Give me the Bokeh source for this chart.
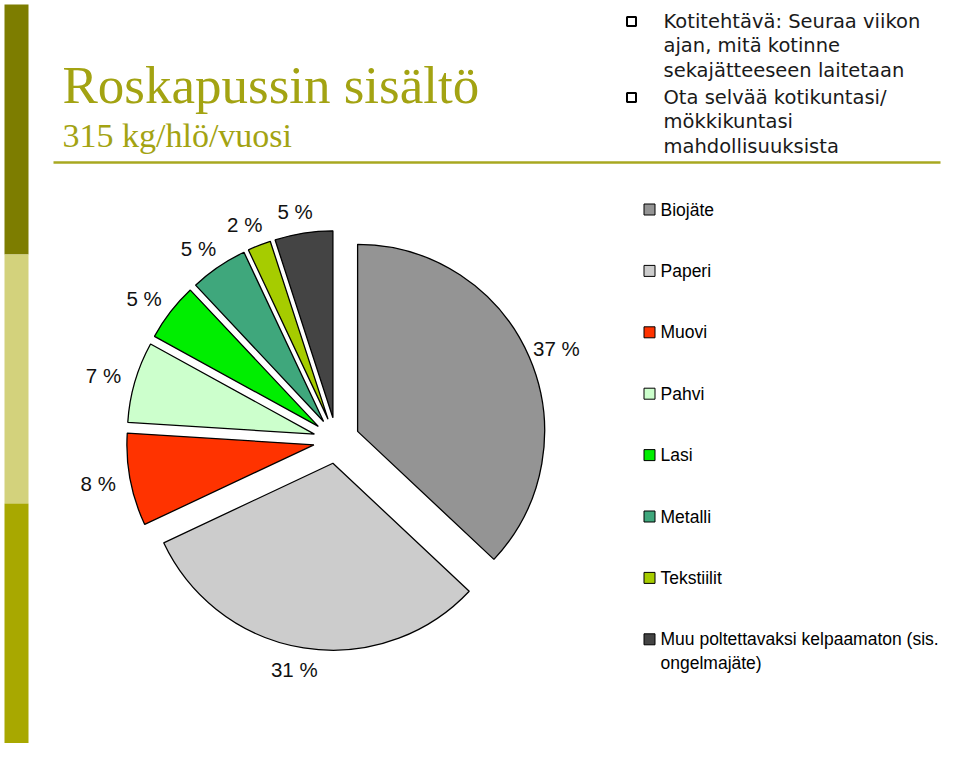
import math
from bokeh.plotting import figure
from bokeh.models import Range1d, ColumnDataSource
from bokeh.core.properties import value
from bokeh.embed import file_html
from bokeh.resources import INLINE

# ---- data ----
categories = ["Biojäte", "Paperi", "Muovi", "Pahvi", "Lasi", "Metalli", "Tekstiilit",
              "Muu poltettavaksi kelpaamaton (sis.\nongelmajäte)"]
shares = [37, 31, 8, 7, 5, 5, 2, 5]
colors = ["#949494", "#cccccc", "#ff3300", "#ccffcc", "#00ee00", "#3fa77c", "#a6cc00", "#444444"]

title_text = "Roskapussin sisältö"
subtitle_text = "315 kg/hlö/vuosi"
bullet_lines = ["Kotitehtävä: Seuraa viikon", "ajan, mitä kotinne", "sekajätteeseen laitetaan",
                "Ota selvää kotikuntasi/", "mökkikuntasi", "mahdollisuuksista"]
bullet_starts = [0, 3]

# ---- layout (pixel coordinates, y measured from top of picture) ----
W, H = 944, 743
def Y(s):
    return 759 - s

p = figure(width=W, height=H, x_range=Range1d(0, 944), y_range=Range1d(16, 759),
           output_backend="svg", toolbar_location=None,
           x_axis_type=None, y_axis_type=None, min_border=0)
p.outline_line_color = None
p.background_fill_color = "white"
p.border_fill_color = "white"

# left decorative bar
p.quad(left=[4, 4, 4], right=[28, 28, 28], top=[Y(4), Y(254), Y(503)],
       bottom=[Y(254), Y(503), Y(753)], fill_color=["#7d7d00", "#d3d27c", "#a8a800"],
       line_color=None)

# header
olive = "#a3a312"
p.text(x=[62], y=[Y(84)], text=[title_text], text_font=value("Liberation Serif"),
       text_font_size="53px", text_color=olive, text_baseline="alphabetic")
p.text(x=[62], y=[Y(135)], text=[subtitle_text], text_font=value("Liberation Serif"),
       text_font_size="34px", text_color=olive, text_baseline="alphabetic")
p.segment(x0=[53], y0=[Y(162)], x1=[940], y1=[Y(162)], line_color="#a8a820", line_width=2.5)

# bullet text
line_ys = [21, 45, 70, 97, 121, 146]
p.text(x=[663] * len(bullet_lines), y=[Y(v) for v in line_ys], text=bullet_lines,
       text_font=value("DejaVu Sans"), text_font_size="19.5px", text_color="#1a1a1a",
       text_baseline="middle")
p.rect(x=[631] * len(bullet_starts), y=[Y(line_ys[i]) for i in bullet_starts], width=9, height=9,
       fill_color=None, line_color="black", line_width=2)

# pie
C = (336.0, Y(440))
R = 187.0
D = 23.0
total = float(sum(shares))
xs, ys, st, en, lx, ly, lt = [], [], [], [], [], [], []
cum = 0.0
for v in shares:
    a0 = cum / total * 360.0
    a1 = (cum + v) / total * 360.0
    cum += v
    mid = math.radians((a0 + a1) / 2)
    ux, uy = math.sin(mid), math.cos(mid)
    xs.append(C[0] + D * ux)
    ys.append(C[1] + D * uy)
    st.append(math.radians(90 - a1))
    en.append(math.radians(90 - a0))
    t = f"{v} %"
    lt.append(t)
    rr = R + D + 12
    lx.append(C[0] + rr * ux + ux * 5.5 * len(t) - 4)
    ly.append(C[1] + rr * uy + uy * 10)

src = ColumnDataSource(dict(x=xs, y=ys, start=st, end=en, color=colors, name=categories))
p.wedge(x="x", y="y", radius=R, start_angle="start", end_angle="end", fill_color="color",
        line_color="black", line_width=1.3, source=src)
p.text(x=lx, y=ly, text=lt, text_font=value("Liberation Sans"), text_font_size="20.5px",
       text_color="#111111", text_align="center", text_baseline="middle")

# legend
leg_y = [209 + 61.4 * i for i in range(len(categories))]
p.rect(x=[649] * len(categories), y=[Y(v) for v in leg_y], width=11, height=11,
       fill_color=colors, line_color="black", line_width=1)
p.text(x=[660] * len(categories), y=[Y(v - 10) for v in leg_y], text=categories,
       text_font=value("Liberation Sans"), text_font_size="17.5px", text_color="black",
       text_baseline="top", text_line_height=1.2)

open("out.html", "w").write(file_html(p, INLINE))
